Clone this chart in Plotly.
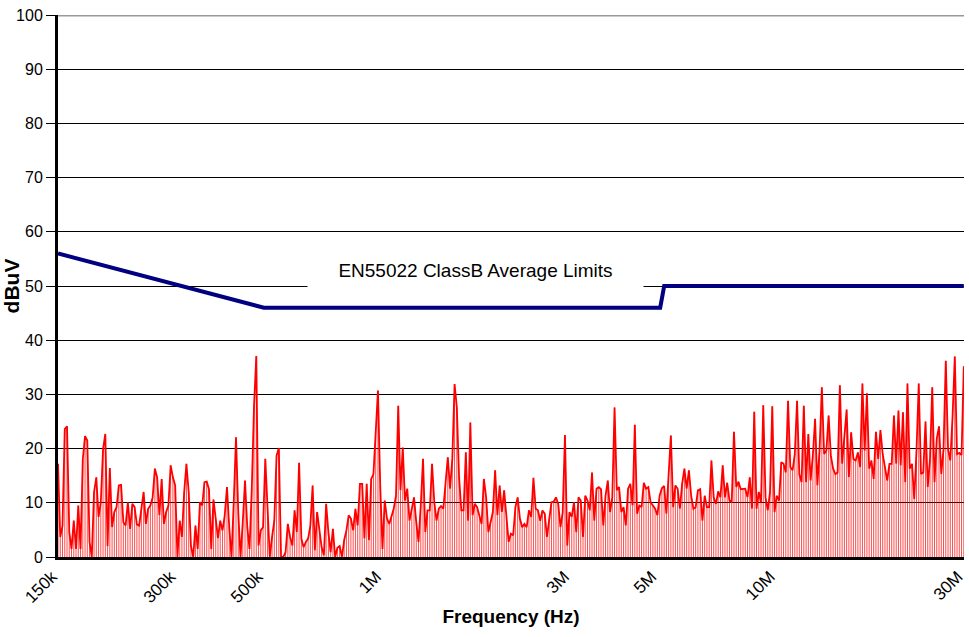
import numpy as np
import plotly.graph_objects as go

# ---- data ----
f_start_hz = 150e3
f_stop_hz = 30e6

levels_dbuv = [
    # 150k .. ~330k
    17.2, 3.7, 5.8, 23.6, 24.1, 4.6, 1.5, 6.7, 1.5, 9.5, 1.5, 18, 22.3, 21.5, 2.8, 0, 12, 14.7, 7.4, 10.1,
    19.9, 22.7, 2, 16.4, 5.5, 8.3, 9.2, 13.2, 13.3, 6.4, 5.8, 10.1, 5.2, 9.8, 9.2, 6, 5.8, 8.9, 12, 6.1,
    8.9, 9.5, 11, 16.3, 14.7, 7.7, 14.4, 6.1, 8.3, 9.5, 16.9, 14.7, 13.2, 0, 6.7, 3.7, 12, 17.2, 12, 2.1,
    0, 5.8, 1.5, 10.1, 9.5, 13.8,
    # ~330k .. ~750k
    13.9, 12.5, 1.5, 10.6, 7, 3.5, 6.7, 4.9, 7.7, 12.9, 5.5, 0, 10.1, 22.1, 8.3, 0, 6.4, 14.1, 5.5, 1.5,
    12.6, 27.9, 37.1, 2.1, 4.9, 5.5, 18.1, 7.7, 0, 3.7, 6.7, 18.7, 20.1, 0, 0, 0.9, 6.1, 3.7, 2.1, 8.6,
    4.6, 17.4, 3.4, 1.8, 2.8, 3.4, 5.8, 13.2, 1.2, 8.3, 4.6, 1.8, 0.3, 9.8, 4.6, 0.9, 5.2, 0, 1.7, 2,
    0, 3.1, 4.9, 7.7, 7.1, 4.9, 8.9,
    # ~750k .. ~1.7M
    5.8, 13.5, 13.5, 3.4, 13.5, 3.1, 14.4, 15.3, 23.6, 30.7, 13.2, 1.5, 10.4, 7.1, 6.1, 7.4, 8.9, 11.3, 27.9, 12.3,
    20.2, 10.4, 12.6, 6.7, 8.9, 11, 6.4, 2.8, 9.5, 18.1, 4.6, 8.6, 8.6, 17.2, 10.1, 6.7, 8.9, 9.4, 8.9, 13.5,
    18.4, 12.6, 18.1, 31.9, 27.6, 14.7, 8.6, 8.6, 19.3, 6.7, 24.8, 7.7, 9.8, 9.2, 7.4, 6.1, 14.4, 11, 4.6, 6.4,
    8.3, 16, 7.7, 13.2, 8.3, 12.3,
    # ~1.7M .. ~5M
    7.4, 2.8, 4.3, 4, 9.2, 11, 7.1, 5.5, 6.1, 5.5, 8.6, 7.4, 14.6, 8.9, 8.6, 6.7, 8.6, 8, 3.7, 7.4,
    10.1, 10.2, 11, 9.8, 5.5, 8.3, 22.5, 2.1, 8.3, 7.4, 10.1, 4.6, 11, 10.4, 3.7, 11.3, 10.4, 8.6, 15.6, 6.7,
    12.6, 12.9, 12.5, 5.8, 11.3, 14.1, 8.3, 11, 27.6, 12.3, 12.9, 8.3, 9.2, 5.8, 12.6, 13.5, 9.5, 24.4, 8, 9.5,
    9.2, 13.7, 12.6, 12.9, 10.1, 9.5,
    # ~5M .. ~14M
    8.9, 7.7, 11.3, 12.7, 13.1, 8, 14.4, 22.4, 9.2, 13.2, 12.6, 8.9, 13.5, 16.3, 12.6, 16, 11.3, 8.9, 9.2, 12.3,
    12.5, 6.7, 11.3, 9.2, 9.2, 17.8, 11, 9.8, 12.1, 11, 16.9, 11, 13.7, 10.4, 10.2, 23.1, 12.9, 13.9, 12.5, 12.5,
    12.6, 11, 14.7, 8.9, 26.8, 8.9, 12, 10.1, 28, 11, 8.6, 12, 27.8, 8.3, 11.3, 10.4, 17.5, 17.2, 15.6, 28.8,
    16.6, 16, 19, 28.8, 15.3, 13.8, 27.9,
    # ~14M .. 30M
    13.8, 22.7, 14.1, 18.7, 25.5, 13.2, 19.9, 31.3, 19, 19.6, 26.1, 18.7, 16.3, 15.3, 15.6, 31.7, 17.2, 21.8, 27.2, 14.7,
    23, 18.1, 17.8, 19.3, 16.6, 32, 19.6, 30.2, 16.3, 17.8, 14.4, 23.1, 18.1, 23.4, 19, 16.6, 14.1, 17.2, 17.2, 26.1,
    17.2, 27, 16.9, 26.7, 13.8, 32, 16.3, 17.2, 10.7, 19.6, 32, 15.3, 15.6, 25, 12.9, 18.1, 31.3, 13.8, 21.8, 24.1,
    15.3, 19.9, 36.2, 19.9, 17.8, 25.8, 37, 19, 19.2, 18.8, 35.2,
]

# sweep grid (log-spaced analyser sweep)
freqs_hz = np.geomspace(f_start_hz, f_stop_hz, len(levels_dbuv))

limit_freqs_hz = [150e3, 500e3, 5.08e6, 5.2e6, 30e6]
limit_dbuv = [56, 46, 46, 50, 50]

tick_vals = [150e3, 300e3, 500e3, 1e6, 3e6, 5e6, 10e6, 30e6]
tick_text = ["150k", "300k", "500k", "1M", "3M", "5M", "10M", "30M"]

limit_label = "EN55022 ClassB Average Limits"

# ---- drop lines ----
stem_x, stem_y = [], []
for f, v in zip(freqs_hz, levels_dbuv):
    stem_x += [f, f, None]
    stem_y += [0, v, None]

FONT = "Arial, Liberation Sans, sans-serif"

fig = go.Figure()
fig.add_trace(go.Scatter(x=stem_x, y=stem_y, mode="lines",
                         line=dict(color="rgba(255,0,0,0.7)", width=1),
                         hoverinfo="skip", showlegend=False))
fig.add_trace(go.Scatter(x=freqs_hz, y=levels_dbuv, mode="lines",
                         line=dict(color="#ff0000", width=1.8), showlegend=False))
fig.add_trace(go.Scatter(x=limit_freqs_hz, y=limit_dbuv, mode="lines",
                         line=dict(color="#000080", width=4), showlegend=False))

fig.add_shape(type="line", xref="paper", yref="y", x0=0, x1=1, y0=100, y1=100,
              line=dict(color="#999999", width=3), layer="above")

fig.add_annotation(x=np.log10(1.72e6), y=52.9, xref="x", yref="y",
                   text=limit_label, showarrow=False,
                   font=dict(family=FONT, size=19, color="black"),
                   bgcolor="white", width=335, height=36, borderpad=0)

x_lo = np.log10(f_start_hz)
x_hi = np.log10(f_stop_hz) + 0.0005

fig.update_layout(
    width=969, height=637,
    margin=dict(l=58, r=5, t=15, b=80),
    paper_bgcolor="white", plot_bgcolor="white",
    font=dict(family=FONT, size=15, color="black"),
    xaxis=dict(type="log", range=[x_lo, x_hi], automargin=False,
               tickvals=tick_vals, ticktext=tick_text, tickangle=-45,
               ticklabeloverflow="allow", ticklabelshift=-6,
               showgrid=False, zeroline=False,
               showline=True, linecolor="black", linewidth=3,
               ticks="", tickfont=dict(size=17),
               title=dict(text="<b>Frequency (Hz)</b>", font=dict(size=19), standoff=4)),
    yaxis=dict(range=[0, 100], tick0=0, dtick=10, automargin=False,
               showgrid=True, gridcolor="black", gridwidth=1,
               zeroline=False,
               showline=True, linecolor="black", linewidth=3,
               ticks="outside", ticklen=9, tickcolor="black", tickwidth=1,
               tickfont=dict(size=16),
               title=dict(text="<b>dBuV</b>", font=dict(size=21), standoff=4)),
)

fig.write_html("out.html", config={"displayModeBar": False},
               post_script="document.body.style.margin='0';")
